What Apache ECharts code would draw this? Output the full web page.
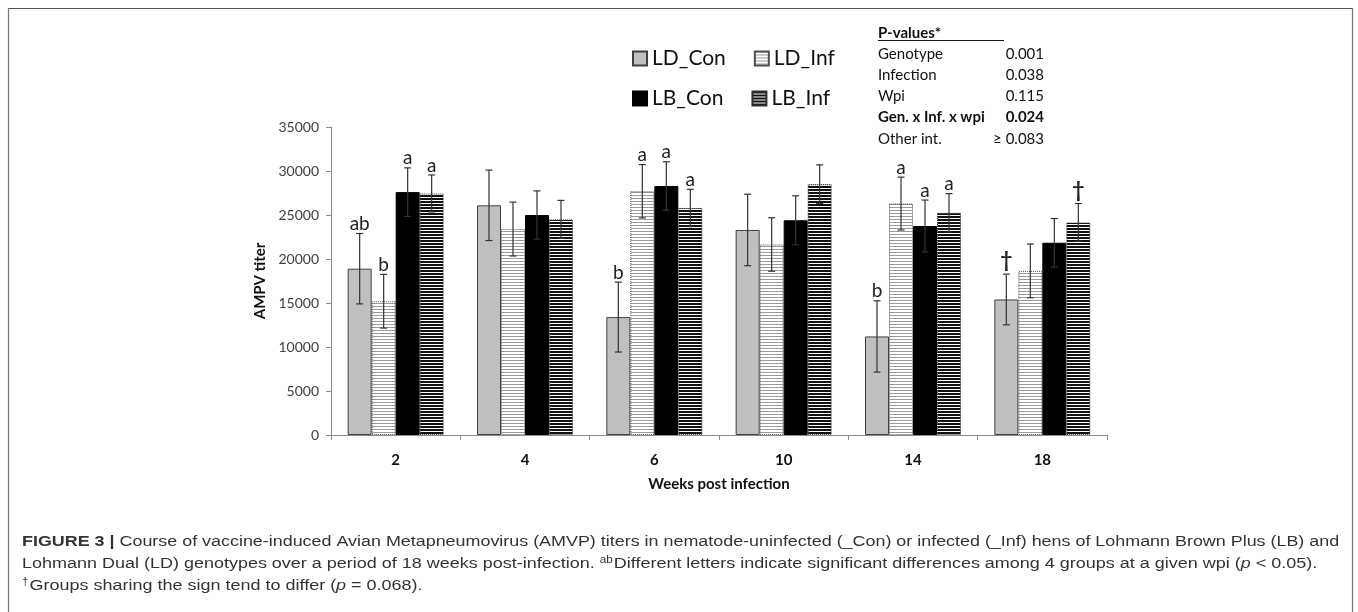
<!DOCTYPE html>
<html>
<head>
<meta charset="utf-8">
<script src="https://cdn.jsdelivr.net/npm/echarts@6/dist/echarts.min.js"></script>
<style>
html,body{margin:0;padding:0;background:#fff;}
#chart{width:1358px;height:612px;}
</style>
</head>
<body>
<div id="chart"></div>
<script>
// ---------- data ----------
const categories = ['2', '4', '6', '10', '14', '18'];
const seriesNames = ['LD_Con', 'LD_Inf', 'LB_Con', 'LB_Inf'];

const ldCon = [18900, 26100, 13400, 23300, 11200, 15400];
const ldInf = [15200, 23400, 27700, 21650, 26300, 18650];
const lbCon = [27600, 25000, 28300, 24400, 23750, 21850];
const lbInf = [27450, 24500, 25800, 28500, 25250, 24150];

const ldConErr = [4000, 4000, 3970, 4060, 4050, 2880];
const ldInfErr = [3050, 3060, 3030, 3040, 3000, 3050];
const lbConErr = [2760, 2740, 2750, 2780, 2950, 2750];
const lbInfErr = [2100, 2160, 2120, 2200, 2180, 2150];

const ldConSig = ['ab', '', 'b', '', 'b', '†'];
const ldInfSig = ['b', '', 'a', '', 'a', ''];
const lbConSig = ['a', '', 'a', '', 'a', ''];
const lbInfSig = ['a', '', 'a', '', 'a', '†'];

const yTicks = { min: 0, max: 35000, interval: 5000 };

const pLabels = ['Genotype', 'Infection', 'Wpi', 'Gen. x Inf. x wpi', 'Other int.'];
const pValues = ['0.001', '0.038', '0.115', '0.024', '≥ 0.083'];
const pBold = [false, false, false, true, false];

// ---------- styles ----------
const FONT = 'Lato, "Open Sans", sans-serif';
const BAR_W = 24;

function stripes(period, rows, color) {
  const c = document.createElement('canvas');
  c.width = 8; c.height = period;
  const ctx = c.getContext('2d');
  ctx.fillStyle = '#ffffff';
  ctx.fillRect(0, 0, 8, period);
  ctx.fillStyle = color;
  ctx.fillRect(0, 0, 8, rows);
  return c;
}
const ldInfPattern = { image: stripes(3, 1, '#9a9a9a'), repeat: 'repeat' };
const lbInfPattern = { image: stripes(3, 2, '#111111'), repeat: 'repeat' };

const itemStyles = [
  { color: '#c0c0c0', borderColor: '#404040', borderWidth: 1 },
  { color: ldInfPattern, borderColor: '#505050', borderWidth: 1, borderType: 'dotted' },
  { color: '#000000', borderColor: '#000000', borderWidth: 1 },
  { color: lbInfPattern, borderColor: '#303030', borderWidth: 1, borderType: 'dotted' }
];

const values = [ldCon, ldInf, lbCon, lbInf];
const errs = [ldConErr, ldInfErr, lbConErr, lbInfErr];
const sigs = [ldConSig, ldInfSig, lbConSig, lbInfSig];

const barSeries = seriesNames.map((name, k) => ({
  name: name,
  type: 'bar',
  data: values[k],
  barWidth: BAR_W,
  barGap: '0%',
  itemStyle: itemStyles[k],
  emphasis: { disabled: true },
  z: 2
}));

const errSeries = seriesNames.map((name, k) => ({
  name: name + '_err',
  type: 'custom',
  z: 5,
  silent: true,
  data: categories.map((c, i) => [i, values[k][i], errs[k][i]]),
  renderItem: function (params, api) {
    const i = api.value(0), v = api.value(1), e = api.value(2);
    const top = api.coord([i, v + e]);
    const bot = api.coord([i, v - e]);
    const x = top[0] + (k - 1.5) * BAR_W;
    const cap = 3.5;
    const children = [
      { type: 'line', shape: { x1: x, y1: top[1], x2: x, y2: bot[1] }, style: { stroke: '#333', lineWidth: 1.2 } },
      { type: 'line', shape: { x1: x - cap, y1: top[1], x2: x + cap, y2: top[1] }, style: { stroke: '#333', lineWidth: 1.2 } },
      { type: 'line', shape: { x1: x - cap, y1: bot[1], x2: x + cap, y2: bot[1] }, style: { stroke: '#333', lineWidth: 1.2 } }
    ];
    const lab = sigs[k][i];
    if (lab) {
      children.push({
        type: 'text',
        style: {
          text: lab, x: x, y: top[1] - (lab === '†' ? 3 : 0),
          align: 'center', verticalAlign: 'bottom',
          fill: '#222',
          font: (lab === '†' ? 'bold 21px ' : '19px ') + FONT
        }
      });
    }
    return { type: 'group', children: children };
  }
}));

// ---------- graphics: p-value table, caption, frame ----------
const graphics = [];
// frame
graphics.push({ type: 'line', shape: { x1: 8, y1: 8.5, x2: 1353, y2: 8.5 }, style: { stroke: '#555', lineWidth: 1.2 } });
graphics.push({ type: 'line', shape: { x1: 8.5, y1: 8, x2: 8.5, y2: 612 }, style: { stroke: '#777', lineWidth: 1.2 } });
graphics.push({ type: 'line', shape: { x1: 1352.5, y1: 8, x2: 1352.5, y2: 612 }, style: { stroke: '#777', lineWidth: 1.2 } });

// p-values table
graphics.push({ type: 'text', x: 878, y: 33, style: { text: 'P-values*', font: 'bold 15px ' + FONT, fill: '#111', align: 'left', verticalAlign: 'middle' } });
graphics.push({ type: 'line', shape: { x1: 878, y1: 40.5, x2: 1004, y2: 40.5 }, style: { stroke: '#111', lineWidth: 1.2 } });
pLabels.forEach((t, r) => {
  const y = 54 + r * 21.2;
  graphics.push({ type: 'text', x: 878, y: y, style: { text: t, font: (pBold[r] ? 'bold ' : '') + '15px ' + FONT, fill: '#111', align: 'left', verticalAlign: 'middle' } });
  graphics.push({ type: 'text', x: 1044, y: y, style: { text: pValues[r], font: (pBold[r] ? 'bold ' : '') + '15px ' + FONT, fill: '#111', align: 'right', verticalAlign: 'middle' } });
});

// caption
const capFont = '"Liberation Sans", Arial, sans-serif';
const CAP_SIZE = 15.5;
const capRich = {
  b: { fontFamily: capFont, fontWeight: 'bold', fontSize: CAP_SIZE, color: '#222' },
  t: { fontFamily: capFont, fontSize: CAP_SIZE, color: '#333' },
  i: { fontFamily: capFont, fontSize: CAP_SIZE, fontStyle: 'italic', color: '#333' },
  s: { fontFamily: capFont, fontSize: 10, color: '#333', verticalAlign: 'top', padding: [0, 1, 8, 0] }
};
const capLines = [
  '{b|FIGURE 3 |}{t| Course of vaccine-induced Avian Metapneumovirus (AMVP) titers in nematode-uninfected (_Con) or infected (_Inf) hens of Lohmann Brown Plus (LB) and}',
  '{t|Lohmann Dual (LD) genotypes over a period of 18 weeks post-infection. }{s|ab}{t|Different letters indicate significant differences among 4 groups at a given wpi (}{i|p}{t| < 0.05).}',
  '{s|†}{t|Groups sharing the sign tend to differ (}{i|p}{t| = 0.068).}'
];
const capScale = [1.155, 1.16, 1.16];
capLines.forEach((l, r) => {
  graphics.push({ type: 'text', x: 22, y: 542 + r * 22, scaleX: capScale[r], style: { text: l, rich: capRich, verticalAlign: 'middle', align: 'left', font: CAP_SIZE + 'px ' + capFont, fill: '#333' } });
});

// ---------- chart ----------
const chart = echarts.init(document.getElementById('chart'), null, { renderer: 'canvas' });
const legendCommon = {
  itemWidth: 14, itemHeight: 14, itemGap: 28,
  textStyle: { fontFamily: FONT, fontSize: 21, color: '#111' },
  selectedMode: false,
  icon: 'rect'
};
chart.setOption({
  animation: false,
  backgroundColor: '#fff',
  grid: { left: 331, right: 251, top: 127, bottom: 177, containLabel: false },
  legend: [
    Object.assign({ data: ['LD_Con', 'LD_Inf'], left: 627, top: 43 }, legendCommon),
    Object.assign({ data: ['LB_Con', 'LB_Inf'], left: 627, top: 83 }, legendCommon)
  ],
  xAxis: {
    type: 'category',
    data: categories,
    name: 'Weeks post infection',
    nameLocation: 'middle',
    nameGap: 42,
    nameTextStyle: { fontFamily: FONT, fontWeight: 'bold', fontSize: 15, color: '#111' },
    axisLine: { lineStyle: { color: '#8a8a8a', width: 1 } },
    axisTick: { show: true, length: 5, lineStyle: { color: '#8a8a8a' } },
    axisLabel: { fontFamily: FONT, fontWeight: 'bold', fontSize: 15, color: '#111', margin: 18 }
  },
  yAxis: {
    type: 'value',
    min: yTicks.min, max: yTicks.max, interval: yTicks.interval,
    name: 'AMPV titer',
    nameLocation: 'middle',
    nameGap: 58,
    nameRotate: 90,
    nameTextStyle: { fontFamily: FONT, fontWeight: 'bold', fontSize: 15, color: '#111' },
    axisLine: { show: true, lineStyle: { color: '#8a8a8a', width: 1 } },
    axisTick: { show: true, length: 5, lineStyle: { color: '#8a8a8a' } },
    splitLine: { show: false },
    axisLabel: { fontFamily: FONT, fontSize: 14, color: '#404040', margin: 12, formatter: v => String(v) }
  },
  series: barSeries.concat(errSeries),
  graphic: graphics
});
</script>
</body>
</html>
